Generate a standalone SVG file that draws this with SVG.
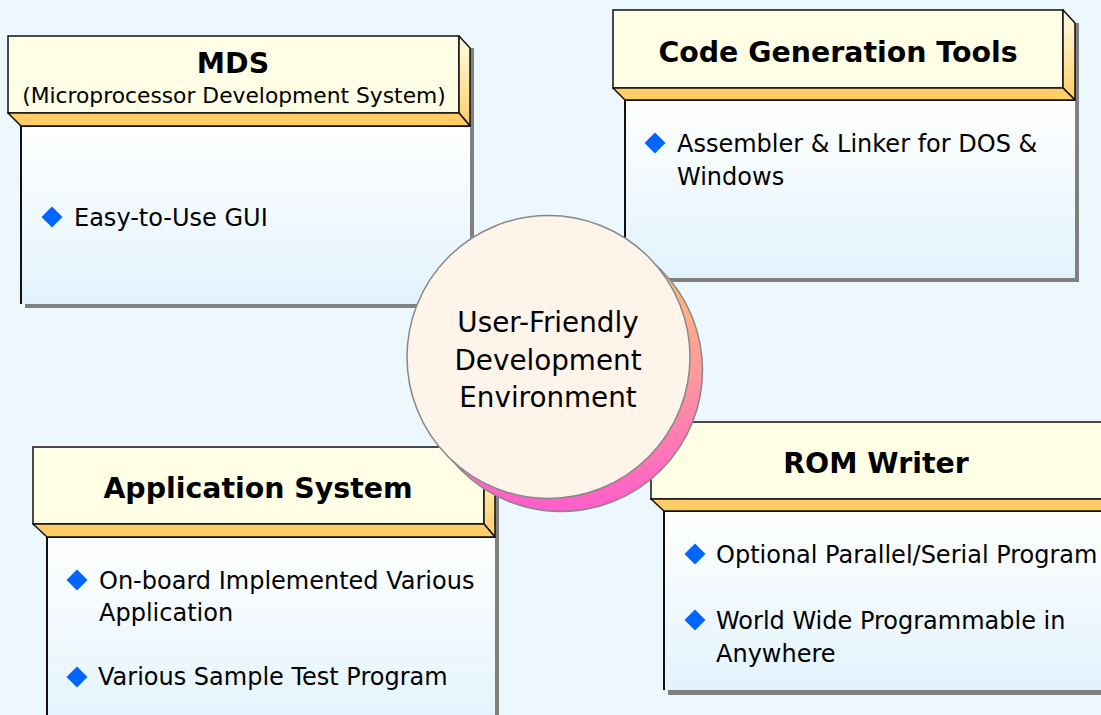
<svg xmlns="http://www.w3.org/2000/svg" width="1101" height="715" viewBox="0 0 1101 715">
<defs>
<linearGradient id="bodyG" x1="0" y1="0" x2="0" y2="1">
<stop offset="0" stop-color="#ffffff"/>
<stop offset="1" stop-color="#e2f3fd"/>
</linearGradient>
<linearGradient id="sideG" x1="0" y1="0" x2="0" y2="1">
<stop offset="0" stop-color="#ffffe5"/>
<stop offset="1" stop-color="#ffcc66"/>
</linearGradient>
<linearGradient id="shadowG" x1="0" y1="0" x2="0" y2="1">
<stop offset="0" stop-color="#ffcc66"/>
<stop offset="0.5" stop-color="#ff9a9a"/>
<stop offset="1" stop-color="#ff5ccc"/>
</linearGradient>
<path id="dia" d="M0,-10.5 L10.5,0 L0,10.5 L-10.5,0 Z" fill="#0066ff"/>
</defs>
<style>
.hdr{fill:#ffffe5;stroke:#111;stroke-width:1.5}
.side{fill:url(#sideG);stroke:#111;stroke-width:1.5;stroke-linejoin:round}
.bevel{fill:#ffcc66;stroke:#111;stroke-width:1.5;stroke-linejoin:round}
.body{fill:url(#bodyG)}
.shd{fill:#808080}
.edge{stroke:#111;stroke-width:2;fill:none}
.title{font-family:"DejaVu Sans",sans-serif;font-weight:bold;font-size:28.4px;fill:#000;text-anchor:middle}
.sub{font-family:"DejaVu Sans",sans-serif;font-size:21.8px;fill:#000;text-anchor:middle}
.txt{font-family:"DejaVu Sans",sans-serif;font-size:24px;fill:#000}
.ctr{font-family:"DejaVu Sans",sans-serif;font-size:27.8px;fill:#000;text-anchor:middle}
</style>
<rect width="1101" height="715" fill="#edf7fe"/>

<g id="mds">
<rect class="shd" x="25" y="48" width="449" height="260"/>
<rect class="body" x="21" y="126" width="449" height="178"/>
<path class="edge" d="M21,304 L21,126 L470,126"/>
<rect class="hdr" x="8" y="36" width="451" height="77"/>
<polygon class="side" points="459,36 470,48 470,126 459,113"/>
<polygon class="bevel" points="8,113 459,113 470,126 21,126"/>
<text class="title" x="233" y="73">MDS</text>
<text class="sub" x="234" y="103">(Microprocessor Development System)</text>
<use href="#dia" x="52" y="217"/>
<text class="txt" x="74" y="226">Easy-to-Use GUI</text>
</g>

<g id="codegen">
<rect class="shd" x="629" y="23" width="450" height="259"/>
<rect class="body" x="625" y="100" width="450" height="178"/>
<path class="edge" d="M625,278 L625,100 L1075,100"/>
<rect class="hdr" x="613" y="10" width="450" height="78"/>
<polygon class="side" points="1063,10 1075,23 1075,100 1063,88"/>
<polygon class="bevel" points="613,88 1063,88 1075,100 625,100"/>
<text class="title" x="838" y="62">Code Generation Tools</text>
<use href="#dia" x="655" y="143"/>
<text class="txt" x="677" y="152">Assembler &amp; Linker for DOS &amp;</text>
<text class="txt" x="677" y="185">Windows</text>
</g>

<g id="appsys">
<rect class="shd" x="51" y="459" width="448" height="270"/>
<rect class="body" x="47" y="537" width="448" height="190"/>
<path class="edge" d="M47,720 L47,537 L495,537"/>
<rect class="hdr" x="33" y="447" width="451" height="77"/>
<polygon class="side" points="484,447 495,459 495,537 484,524"/>
<polygon class="bevel" points="33,524 484,524 495,537 47,537"/>
<text class="title" x="258" y="498">Application System</text>
<use href="#dia" x="77" y="580"/>
<text class="txt" x="99" y="589">On-board Implemented Various</text>
<text class="txt" x="99" y="621">Application</text>
<use href="#dia" x="77" y="677"/>
<text class="txt" x="98" y="685">Various Sample Test Program</text>
</g>

<g id="romwriter">
<rect class="shd" x="668" y="434" width="460" height="261"/>
<rect class="body" x="664" y="511" width="460" height="179"/>
<path class="edge" d="M664,690 L664,511 L1124,511"/>
<rect class="hdr" x="651" y="422" width="470" height="77"/>
<polygon class="bevel" points="651,499 1121,499 1133,511 664,511"/>
<text class="title" x="876" y="473">ROM Writer</text>
<use href="#dia" x="695" y="554"/>
<text class="txt" x="716" y="563">Optional Parallel/Serial Program</text>
<use href="#dia" x="695" y="620"/>
<text class="txt" x="716" y="629">World Wide Programmable in</text>
<text class="txt" x="716" y="662">Anywhere</text>
</g>

<g id="center">
<circle cx="561" cy="370" r="141.5" fill="url(#shadowG)" stroke="#888" stroke-width="1.5"/>
<circle cx="548.5" cy="357" r="141.5" fill="#fef4ea" stroke="#888" stroke-width="1.5"/>
<text class="ctr" x="548" y="332">User-Friendly</text>
<text class="ctr" x="548" y="370">Development</text>
<text class="ctr" x="548" y="407">Environment</text>
</g>
<g id="connectors"/>
</svg>
